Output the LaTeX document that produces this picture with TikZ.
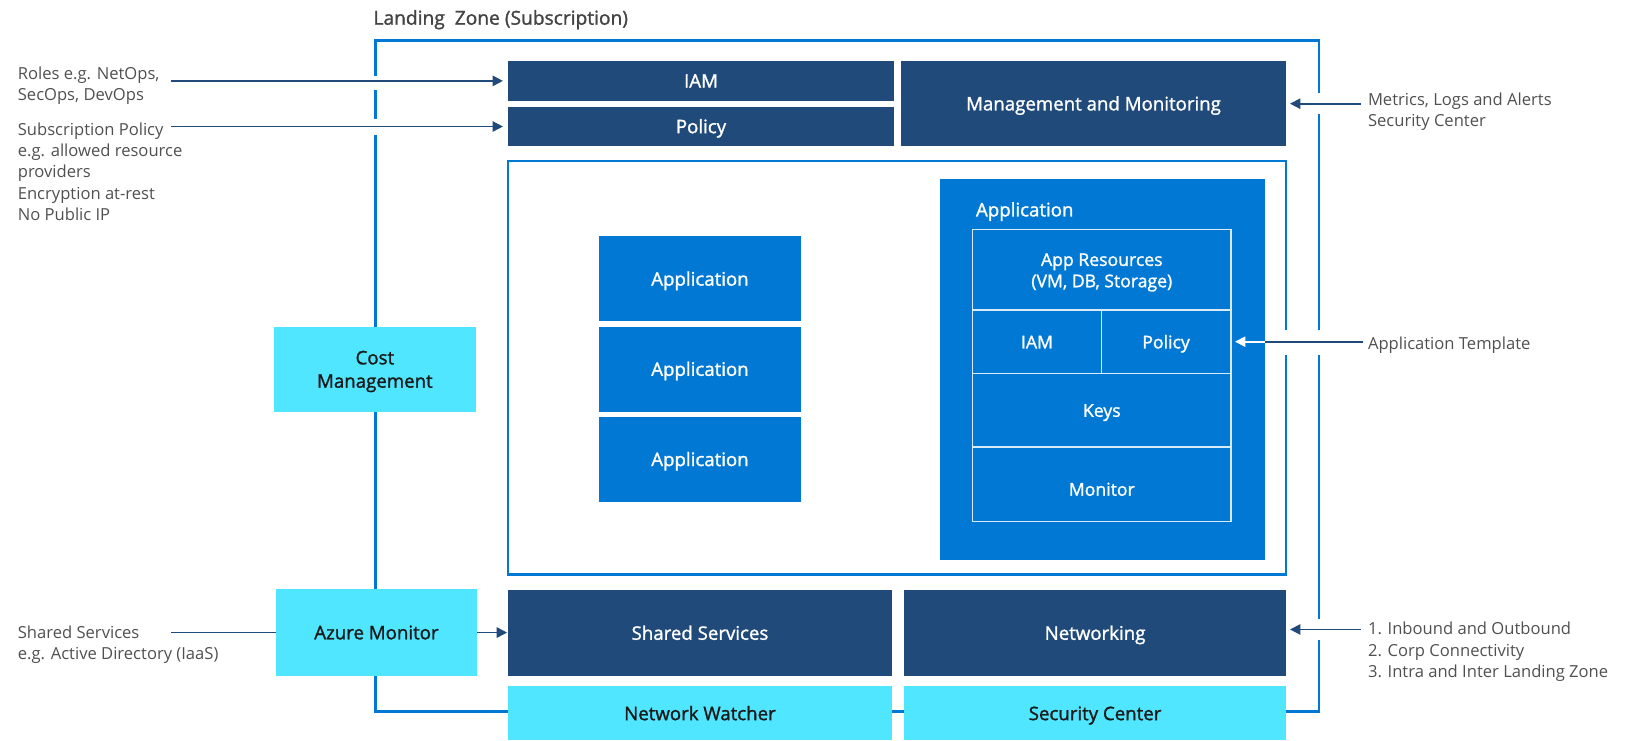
\documentclass[tikz,border=0pt]{standalone}
\usepackage{fontspec}
\setmainfont{Open Sans}
\newfontfamily\sbf{Open Sans}[FakeBold=1.4]
\usetikzlibrary{arrows.meta}
\definecolor{navy}{HTML}{1F4A7A}
\definecolor{azblue}{HTML}{0078D4}
\definecolor{azcyan}{HTML}{50E6FF}
\definecolor{labgray}{HTML}{505050}
\definecolor{darktxt}{HTML}{1A1A1A}
\newcommand{\upstrut}[1]{\rule{0pt}{#1}}
\begin{document}
\begin{tikzpicture}[x=1pt,y=-1pt,
  box/.style={inner sep=0pt, outer sep=0pt, align=center, anchor=center},
  oneline/.style={text height=12.9pt, text depth=0pt},
  navybox/.style={box, oneline, fill=navy, text=white, font=\sbf\fontsize{18}{22}\selectfont},
  bluebox/.style={box, oneline, fill=azblue, text=white, font=\sbf\fontsize{18}{22}\selectfont},
  cyanbox/.style={box, fill=azcyan, text=darktxt, font=\sbf\fontsize{18}{22.5}\selectfont},
  cell/.style={box, draw=white!85!azblue, line width=1.2pt, text=white, font=\sbf\fontsize{17}{20.6}\selectfont},
  lbl/.style={inner sep=0pt, anchor=west, align=left, text=labgray, font=\fontsize{16}{20.5}\selectfont},
  frame/.style={draw=azblue, line width=2.5pt},
  conn/.style={draw=navy, line width=1.6pt},
  arr/.style={conn, -{Triangle[length=10pt,width=10pt]}},
  whitearr/.style={draw=white, line width=1.6pt, -{Triangle[length=10pt,width=10pt]}},
  gap/.style={draw=white, line width=#1},
]
\useasboundingbox (0,0) rectangle (1568,714.5);

% outer landing zone frame
\node[frame, box, minimum width=910pt, minimum height=647pt] (lz) at (817,362.5) {};
\node[inner sep=0pt, anchor=west, text=labgray!85!black, font=\sbf\fontsize{18.5}{22}\selectfont] (lztitle) at (360,19) {Landing\ \ Zone (Subscription)};

% inner white box
\node[frame, box, line width=2pt, fill=white, minimum width=750pt, minimum height=399pt] (inner) at (865,354.5) {};

% gaps in frame lines where arrows cross
\draw[gap=12pt] (362,73) -- (362,87);
\draw[gap=13pt] (362,115) -- (362,130);
\draw[gap=20pt] (1272,90) -- (1272,110);
\draw[gap=20pt] (1272,597) -- (1272,617);
\draw[gap=24pt] (1240,318) -- (1240,342);
\draw[gap=24pt] (1272,318) -- (1272,342);

% top boxes
\node[navybox, minimum width=372pt, minimum height=38pt] (iam) at (676,78) {IAM};
\node[navybox, minimum width=372pt, minimum height=38pt] (pol) at (676,122) {Policy};
\node[navybox, minimum width=371pt, minimum height=82pt] (mm) at (1054.5,100) {Management and Monitoring};

% application stack
\node[bluebox, minimum width=194pt, minimum height=82pt] (app1) at (675,269) {Application};
\node[bluebox, minimum width=194pt, minimum height=82pt] (app2) at (675,356) {Application};
\node[bluebox, minimum width=194pt, minimum height=82pt] (app3) at (675,443) {Application};

% application template
\node[box, fill=azblue, minimum width=314pt, minimum height=367pt] (tpl) at (1063,356.5) {};
\node[inner sep=0pt, anchor=west, text=white, font=\sbf\fontsize{18}{22}\selectfont] (tpltitle) at (941,204) {Application};
\node[cell, minimum width=249pt, minimum height=78pt] (res) at (1062.5,260) {\upstrut{17.5pt}App Resources\\(VM, DB, Storage)};
\node[cell, oneline, minimum width=124pt, minimum height=61pt] (tiam) at (1000,329.5) {IAM};
\node[cell, oneline, minimum width=125pt, minimum height=61pt] (tpol) at (1124.5,329.5) {Policy};
\node[cell, oneline, minimum width=249pt, minimum height=71pt] (keys) at (1062.5,395.5) {Keys};
\node[cell, text height=22pt, text depth=0pt, minimum width=249pt, minimum height=72pt] (mon) at (1062.5,467) {Monitor};

% left cyan boxes
\node[cyanbox, minimum width=195pt, minimum height=82pt] (cost) at (361.5,356) {\upstrut{17.5pt}Cost\\Management};
\node[cyanbox, oneline, minimum width=194pt, minimum height=84pt] (azm) at (363,610) {Azure Monitor};

% bottom boxes
\node[navybox, minimum width=370pt, minimum height=83pt] (shs) at (675,610.5) {Shared Services};
\node[navybox, minimum width=368pt, minimum height=83pt] (net) at (1056,610.5) {Networking};
\node[cyanbox, oneline, minimum width=370pt, minimum height=52pt] (nw) at (675,688) {Network Watcher};
\node[cyanbox, oneline, minimum width=368pt, minimum height=52pt] (sc) at (1056,688) {Security Center};

% labels
\node[lbl] (roles) at (17,82.5) {Roles e.g. NetOps,\\SecOps, DevOps};
\node[lbl] (subpol) at (17,165.5) {Subscription Policy\\e.g. allowed resource\\providers\\Encryption at-rest\\No Public IP};
\node[lbl] (metrics) at (1319,108) {Metrics, Logs and Alerts\\Security Center};
\node[lbl] (apptpl) at (1319,333) {Application Template};
\node[lbl] (netlbl) at (1319,628.5) {1. Inbound and Outbound\\2. Corp Connectivity\\3. Intra and Inter Landing Zone};
\node[lbl] (shlbl) at (17,622) {Shared Services\\e.g. Active Directory (IaaS)};

% connector end points
\coordinate (rolesin) at (165,78);
\coordinate (subin) at (165,122);
\coordinate (metin) at (1312,100);
\coordinate (tplin) at (1314,329.5);
\coordinate (netin) at (1312,607);
\coordinate (shin) at (165,610);

% connectors
\draw[arr, shorten >=5pt] (rolesin) -- (rolesin -| iam.west);
\draw[arr, shorten >=5pt] (subin) -- (subin -| pol.west);
\draw[arr, shorten >=4pt] (metin) -- (metin -| mm.east);
\draw[conn] (tplin) -- (tplin -| tpl.east);
\draw[whitearr, shorten >=4pt] (tplin -| tpl.east) -- (tpol.east);
\draw[arr, shorten >=4pt] (netin) -- (netin -| net.east);
\draw[conn] (shin) -- (shin -| azm.west);
\draw[arr, shorten >=1pt] (shin -| azm.east) -- (shin -| shs.west);
\end{tikzpicture}
\end{document}
